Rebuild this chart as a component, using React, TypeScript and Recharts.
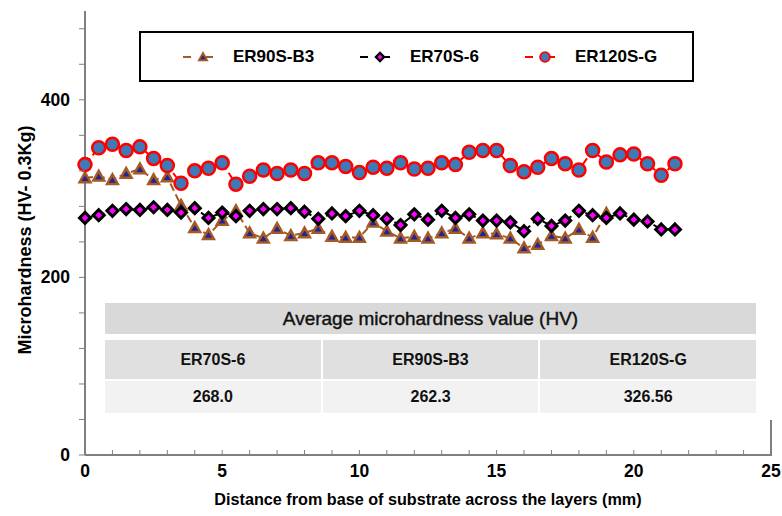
import { LineChart, Line, XAxis, YAxis } from 'recharts';

const FONT = '"Liberation Sans", Arial, sans-serif';

const xValues = [
  0, 0.5, 1, 1.5, 2, 2.5, 3, 3.5, 4, 4.5, 5, 5.5, 6, 6.5, 7, 7.5, 8, 8.5, 9, 9.5, 10, 10.5,
  11, 11.5, 12, 12.5, 13, 13.5, 14, 14.5, 15, 15.5, 16, 16.5, 17, 17.5, 18, 18.5, 19, 19.5,
  20, 20.5, 21, 21.5,
];

const er90 = [
  312, 314, 310, 317, 322, 310, 313, 281, 256, 248, 264, 275, 250, 244, 255, 247, 250, 255,
  246, 245, 245, 262, 252, 244, 246, 244, 250, 255, 244, 250, 249, 244, 233, 237, 247, 244,
  254, 245, 272,
];

const er70 = [
  267, 270, 275, 277, 276, 279, 276, 273, 278, 267, 273, 269, 275, 277, 277, 278, 274, 266,
  272, 269, 275, 270, 266, 259, 271, 265, 275, 267, 271, 264, 264, 262, 252, 266, 258, 264,
  275, 270, 267, 272, 265, 263, 254, 254,
];

const er120 = [
  327, 346, 350, 343, 347, 334, 326, 306, 320, 323, 329, 305, 314, 321, 317, 321, 317, 329,
  329, 325, 318, 324, 323, 329, 322, 323, 329, 327, 341, 343, 343, 326, 319, 324, 334, 328,
  321, 343, 330, 338, 339, 328, 315, 328,
];

const xTicks = [
  0, 1, 2, 3, 4, 5, 6, 7, 8, 9, 10, 11, 12, 13, 14, 15, 16, 17, 18, 19, 20, 21, 22, 23, 24, 25,
];
const yTicks = [0, 40, 80, 120, 160, 200, 240, 280, 320, 360, 400, 440, 480];

const avgNames = ['ER70S-6', 'ER90S-B3', 'ER120S-G'];
const avgValues = ['268.0', '262.3', '326.56'];

const data = xValues.map((x, i) => ({
  x,
  er90: er90[i],
  er70: er70[i],
  er120: er120[i],
}));

const BROWN = '#a35a24';
const NAVY = '#22229a';
const MAGENTA = '#ff00ff';
const RED = '#ff0000';
const STEEL = '#3d7ab8';
const AXIS = '#7f7f7f';

function Tri({ cx, cy, s = 1 }: { cx: number; cy: number; s?: number }) {
  return (
    <g>
      <polygon
        points={`${cx},${cy - 8 * s} ${cx - 7.5 * s},${cy + 5.5 * s} ${cx + 7.5 * s},${cy + 5.5 * s}`}
        fill={BROWN}
      />
      <polygon
        points={`${cx},${cy - 2.5 * s} ${cx - 3.5 * s},${cy + 3 * s} ${cx + 3.5 * s},${cy + 3 * s}`}
        fill={NAVY}
      />
    </g>
  );
}

function Dia({ cx, cy, s = 1 }: { cx: number; cy: number; s?: number }) {
  const r = 5.5 * s;
  return (
    <path
      d={`M${cx},${cy - r}L${cx + r},${cy}L${cx},${cy + r}L${cx - r},${cy}Z`}
      fill={MAGENTA}
      stroke="#000"
      strokeWidth={3 * s}
    />
  );
}

function Circ({ cx, cy, s = 1 }: { cx: number; cy: number; s?: number }) {
  return <circle cx={cx} cy={cy} r={6.5 * s} fill={STEEL} stroke={RED} strokeWidth={2.5 * s} />;
}

const dotFn = (Shape: any) => (p: any) => {
  if (p.cx == null || p.cy == null || p.value == null) return <g key={p.key} />;
  return <Shape key={p.key} cx={p.cx} cy={p.cy} />;
};

function XTick({ x, y, payload }: any) {
  const v = payload.value;
  return (
    <g>
      <line x1={x} x2={x} y1={y} y2={y - 5} stroke={AXIS} strokeWidth={1} />
      {v % 5 === 0 && (
        <text x={x} y={y + 22} textAnchor="middle" fontFamily={FONT} fontWeight="bold" fontSize={17.5} fill="#000">
          {v}
        </text>
      )}
    </g>
  );
}

function YTick({ x, y, payload }: any) {
  const v = payload.value;
  return (
    <g>
      <line x1={x - 6} x2={x} y1={y} y2={y} stroke={AXIS} strokeWidth={1} />
      {v % 200 === 0 && (
        <text x={x - 15} y={y + 6} textAnchor="end" fontFamily={FONT} fontWeight="bold" fontSize={17.5} fill="#000">
          {v}
        </text>
      )}
    </g>
  );
}

const legendItems = [
  { name: 'ER90S-B3', color: BROWN, Shape: Tri, w: 177 },
  { name: 'ER70S-6', color: '#000', Shape: Dia, w: 165 },
  { name: 'ER120S-G', color: RED, Shape: Circ, w: 150 },
];

function LegendBox() {
  return (
    <div
      style={{
        position: 'absolute',
        left: 139,
        top: 31,
        boxSizing: 'border-box',
        width: 555,
        height: 51,
        border: '2px solid #000',
        display: 'flex',
        alignItems: 'center',
        paddingLeft: 41,
        fontFamily: FONT,
        fontWeight: 'bold',
        fontSize: 17,
        background: '#fff',
      }}
    >
      {legendItems.map((it) => (
        <div key={it.name} style={{ display: 'flex', alignItems: 'center', width: it.w }}>
          <svg width={42} height={20} style={{ marginRight: 9 }}>
            <line x1={1} x2={41} y1={10} y2={10} stroke={it.color} strokeWidth={2} strokeDasharray="8 14" />
            <it.Shape cx={21} cy={10} s={0.75} />
          </svg>
          <span>{it.name}</span>
        </div>
      ))}
    </div>
  );
}

function AvgTable() {
  const cell = {
    flex: 1,
    display: 'flex',
    alignItems: 'center',
    justifyContent: 'center',
  } as const;
  return (
    <div
      style={{
        position: 'absolute',
        left: 105,
        top: 303,
        width: 651,
        fontFamily: FONT,
        fontWeight: 'bold',
        fontSize: 16,
        color: '#111',
      }}
    >
      <div style={{ ...cell, height: 31, background: '#d9d9d9', fontWeight: 'normal', fontSize: 19, WebkitTextStroke: '0.4px #111' }}>
        Average microhardness value (HV)
      </div>
      <div style={{ display: 'flex', marginTop: 6, height: 39, gap: 2 }}>
        {avgNames.map((n) => (
          <div key={n} style={{ ...cell, background: '#e0e0e0' }}>
            {n}
          </div>
        ))}
      </div>
      <div style={{ display: 'flex', marginTop: 2, height: 32, gap: 2 }}>
        {avgValues.map((v) => (
          <div key={v} style={{ ...cell, background: '#f2f2f2' }}>
            {v}
          </div>
        ))}
      </div>
    </div>
  );
}

export default function App() {
  return (
    <div style={{ position: 'absolute', left: 0, top: 0, width: 782, height: 516, background: '#fff' }}>
      <LineChart width={782} height={516} data={data} margin={{ top: 11, right: 11, left: 0, bottom: 0 }}>
        <XAxis
          dataKey="x"
          type="number"
          domain={[0, 25]}
          ticks={xTicks}
          interval={0}
          height={61}
          tickLine={false}
          tickSize={0}
          tickMargin={0}
          tick={<XTick />}
          axisLine={{ stroke: AXIS, strokeWidth: 2 }}
          label={() => (
            <text x={428} y={505} textAnchor="middle" fontFamily={FONT} fontWeight="bold" fontSize={16.2} fill="#000">
              Distance from base of substrate across the layers (mm)
            </text>
          )}
        />
        <YAxis
          type="number"
          domain={[0, 500]}
          ticks={yTicks}
          interval={0}
          width={85}
          tickLine={false}
          tickSize={0}
          tickMargin={0}
          tick={<YTick />}
          axisLine={{ stroke: AXIS, strokeWidth: 2 }}
          label={() => (
            <text
              x={31}
              y={240}
              transform="rotate(-90 31 240)"
              textAnchor="middle"
              fontFamily={FONT}
              fontWeight="bold"
              fontSize={18}
              fill="#000"
            >
              Microhardness (HV- 0.3Kg)
            </text>
          )}
        />
        <Line
          dataKey="er90"
          name="ER90S-B3"
          stroke={BROWN}
          strokeWidth={2}
          strokeDasharray="8 4"
          dot={dotFn(Tri)}
          activeDot={false}
          connectNulls={false}
          isAnimationActive={false}
        />
        <Line
          dataKey="er70"
          name="ER70S-6"
          stroke="#000"
          strokeWidth={2}
          strokeDasharray="8 4"
          dot={dotFn(Dia)}
          activeDot={false}
          isAnimationActive={false}
        />
        <Line
          dataKey="er120"
          name="ER120S-G"
          stroke={RED}
          strokeWidth={2}
          strokeDasharray="8 4"
          dot={dotFn(Circ)}
          activeDot={false}
          isAnimationActive={false}
        />
      </LineChart>
      <LegendBox />
      <AvgTable />
      <div style={{ position: 'absolute', left: 770, top: 420, width: 2, height: 36, background: AXIS }} />
    </div>
  );
}
